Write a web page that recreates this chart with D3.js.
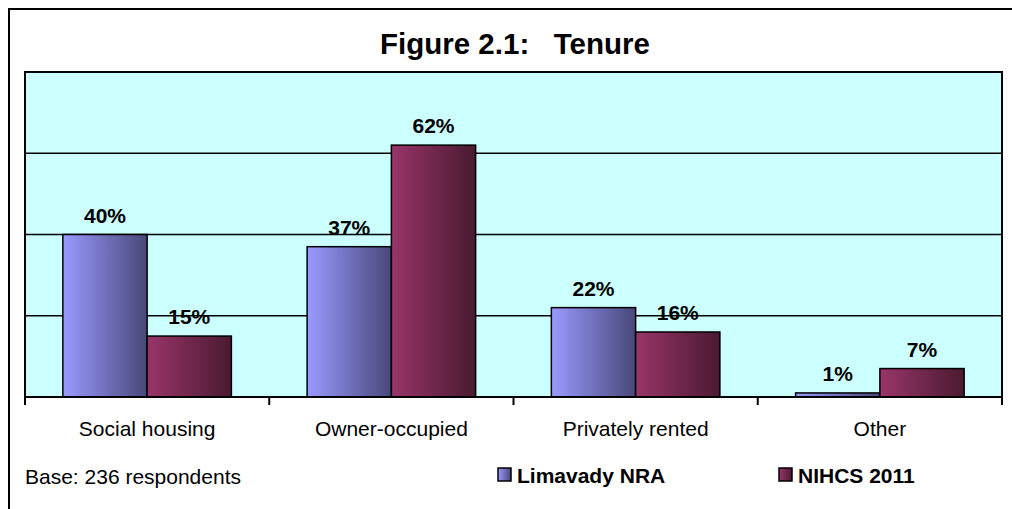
<!DOCTYPE html>
<html>
<head>
<meta charset="utf-8">
<script src="https://cdn.jsdelivr.net/npm/d3@7"></script>
<style>
  body { margin: 0; background: #fff; }
  svg { display: block; font-family: Arial, 'Liberation Sans', sans-serif; }
</style>
</head>
<body>
<svg class="canvas" width="1012" height="509"></svg>
<script>
// chart data
const categories = ['Social housing', 'Owner-occupied', 'Privately rented', 'Other'];
const seriesNames = ['Limavady NRA', 'NIHCS 2011'];
const limavady = [40, 37, 22, 1];
const nihcs = [15, 62, 16, 7];
const yTicks = [0, 20, 40, 60, 80];

const svg = d3.select('.canvas');
const plot = { left: 25, right: 1002, top: 72, bottom: 397 };

// gradients for the bars (light on the left, dark on the right)
const defs = svg.append('defs');
const gradColors = [['#9a9aff', '#48487a'], ['#99356a', '#4a1a30']];
gradColors.forEach((c, i) => {
    const g = defs.append('linearGradient').attr('id', 'grad' + i)
        .attr('x1', '0%').attr('x2', '100%').attr('y1', '0%').attr('y2', '0%');
    g.append('stop').attr('offset', '0%').attr('stop-color', c[0]);
    g.append('stop').attr('offset', '100%').attr('stop-color', c[1]);
});

// outer frame
svg.append('rect')
    .attr('x', 9).attr('y', 9).attr('width', 1020).attr('height', 520)
    .attr('fill', 'none').attr('stroke', '#000').attr('stroke-width', 2);

// title
svg.append('text')
    .attr('x', 515).attr('y', 54)
    .attr('text-anchor', 'middle')
    .style('font-size', '29.5px').style('font-weight', 'bold')
    .style('white-space', 'pre')
    .text('Figure 2.1:   Tenure');

// scales
const x0 = d3.scaleBand().domain(categories).range([plot.left, plot.right])
    .paddingInner(0.31).paddingOuter(0.155);
const x1 = d3.scaleBand().domain(seriesNames).range([0, x0.bandwidth()]);
const y = d3.scaleLinear().domain([0, 80]).range([plot.bottom, plot.top]);

// plot background
svg.append('rect')
    .attr('x', plot.left).attr('y', plot.top)
    .attr('width', plot.right - plot.left).attr('height', plot.bottom - plot.top)
    .attr('fill', '#ccffff');

// gridlines
svg.append('g')
    .selectAll('line')
    .data(yTicks.slice(1, -1))
    .enter()
    .append('line')
    .attr('x1', plot.left).attr('x2', plot.right)
    .attr('y1', (d) => y(d)).attr('y2', (d) => y(d))
    .attr('stroke', '#000').attr('stroke-width', 1.5);

// plot border
svg.append('rect')
    .attr('x', plot.left).attr('y', plot.top)
    .attr('width', plot.right - plot.left).attr('height', plot.bottom - plot.top)
    .attr('fill', 'none').attr('stroke', '#000').attr('stroke-width', 2);

// bars
const rows = categories.map((c, i) => ({ cat: c, vals: [limavady[i], nihcs[i]] }));
const groups = svg.append('g')
    .selectAll('g')
    .data(rows)
    .enter()
    .append('g')
    .attr('transform', (d) => `translate(${x0(d.cat)},0)`);

groups.selectAll('rect')
    .data((d) => d.vals.map((v, i) => ({ s: seriesNames[i], i: i, v: v })))
    .enter()
    .append('rect')
    .attr('x', (d) => x1(d.s))
    .attr('y', (d) => y(d.v))
    .attr('width', x1.bandwidth())
    .attr('height', (d) => y(0) - y(d.v))
    .attr('fill', (d) => `url(#grad${d.i})`)
    .attr('stroke', '#000').attr('stroke-width', 1.5);

// value labels
groups.selectAll('text')
    .data((d) => d.vals.map((v, i) => ({ s: seriesNames[i], v: v })))
    .enter()
    .append('text')
    .attr('x', (d) => x1(d.s) + x1.bandwidth() / 2)
    .attr('y', (d) => y(d.v) - 12)
    .attr('text-anchor', 'middle')
    .style('font-size', '21px').style('font-weight', 'bold')
    .text((d) => d.v + '%');

// x axis with ticks between categories
const xAxis = svg.append('g');
xAxis.append('line')
    .attr('x1', plot.left).attr('x2', plot.right)
    .attr('y1', plot.bottom).attr('y2', plot.bottom)
    .attr('stroke', '#000').attr('stroke-width', 2);
const tickPos = categories.map((c) => x0(c) - x0.step() * x0.paddingOuter())
    .concat([plot.right]);
xAxis.selectAll('.tick')
    .data(tickPos)
    .enter()
    .append('line')
    .attr('x1', (d) => d).attr('x2', (d) => d)
    .attr('y1', plot.bottom).attr('y2', plot.bottom + 8)
    .attr('stroke', '#000').attr('stroke-width', 2);
xAxis.selectAll('text')
    .data(categories)
    .enter()
    .append('text')
    .attr('x', (d) => x0(d) + x0.bandwidth() / 2)
    .attr('y', 436)
    .attr('text-anchor', 'middle')
    .style('font-size', '21px')
    .text((d) => d);

// base note
svg.append('text')
    .attr('x', 25).attr('y', 484)
    .style('font-size', '21px')
    .text('Base: 236 respondents');

// legend
const legendX = [498, 779];
const legend = svg.append('g')
    .selectAll('g')
    .data(seriesNames)
    .enter()
    .append('g')
    .attr('transform', (d, i) => `translate(${legendX[i]},468)`);
legend.append('rect')
    .attr('width', 13).attr('height', 13)
    .attr('fill', (d, i) => `url(#grad${i})`)
    .attr('stroke', '#000').attr('stroke-width', 1.5);
legend.append('text')
    .attr('x', 19).attr('y', 15)
    .style('font-size', '21px').style('font-weight', 'bold')
    .text((d) => d);
</script>
</body>
</html>
